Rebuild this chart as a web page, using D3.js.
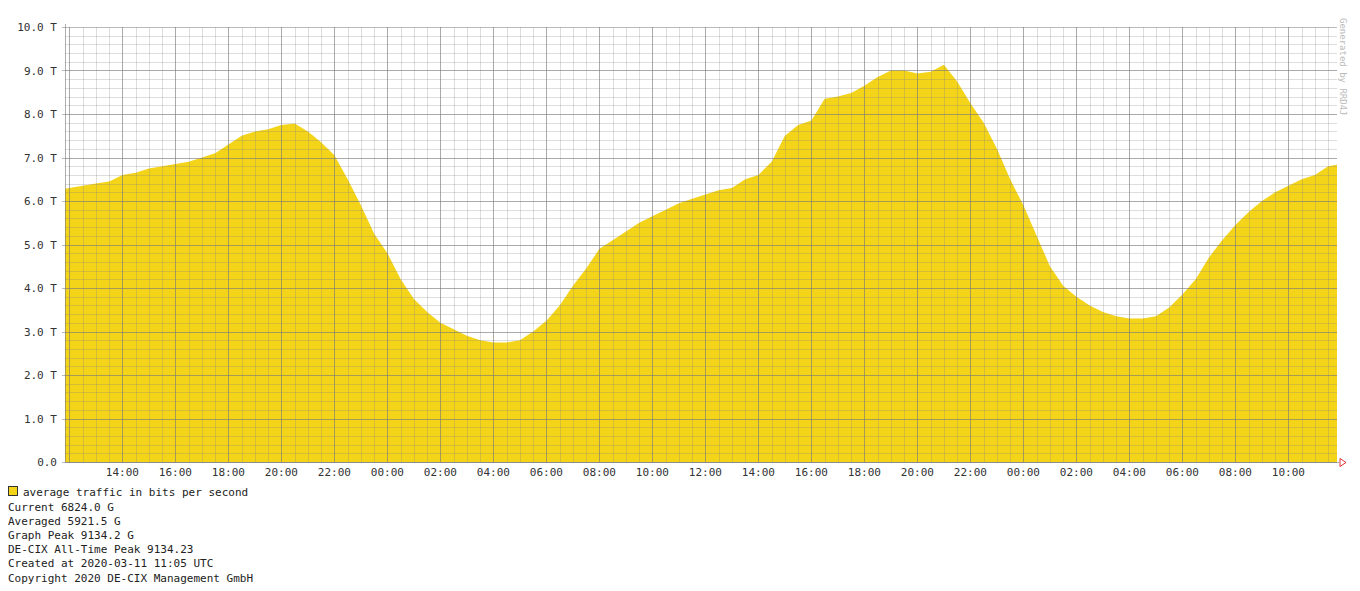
<!DOCTYPE html>
<html><head><meta charset="utf-8">
<script src="https://cdn.jsdelivr.net/npm/d3@7"></script>
<style>
html,body{margin:0;padding:0;background:#fff;}
svg text{font-family:"DejaVu Sans Mono",monospace;}
</style></head>
<body>
<svg id="chart" width="1360" height="591"></svg>
<script>
// ---- data (values in Tbit/s, every 30 minutes, starting 2020-03-09 11:30) ----
const seriesStart = "2020-03-09T11:30:00Z";
const stepMinutes = 30;
const trafficT = [
 6.25,
 6.3,6.35,6.4,6.45,6.6,6.65,6.75,6.8,6.85,6.9,7.0,7.1,
 7.3,7.5,7.6,7.65,7.75,7.78,7.6,7.35,7.05,6.5,5.9,5.25,
 4.8,4.2,3.75,3.45,3.2,3.05,2.9,2.8,2.75,2.75,2.8,3.0,
 3.25,3.6,4.05,4.45,4.9,5.1,5.3,5.5,5.65,5.8,5.95,6.05,
 6.15,6.25,6.3,6.5,6.6,6.9,7.5,7.75,7.85,8.35,8.4,8.48,
 8.65,8.85,9.0,9.0,8.93,8.97,9.13,8.75,8.25,7.8,7.2,6.5,
 5.9,5.2,4.5,4.05,3.8,3.6,3.45,3.35,3.3,3.3,3.35,3.55,
 3.85,4.2,4.7,5.1,5.45,5.75,6.0,6.2,6.35,6.5,6.6,6.8,
 6.85
];
const viewStart = "2020-03-09T11:50:00Z";
const viewEnd = "2020-03-11T11:50:00Z";
const yTickValues = [0,1,2,3,4,5,6,7,8,9,10];
const yTickLabels = ["0.0","1.0 T","2.0 T","3.0 T","4.0 T","5.0 T","6.0 T","7.0 T","8.0 T","9.0 T","10.0 T"];
const legendLabel = "average traffic in bits per second";
const legendLines = [
 "Current 6824.0 G",
 "Averaged 5921.5 G",
 "Graph Peak 9134.2 G",
 "DE-CIX All-Time Peak 9134.23",
 "Created at 2020-03-11 11:05 UTC",
 "Copyright 2020 DE-CIX Management GmbH"
];
const watermark = "Generated by RRD4J";

// ---- layout ----
const L = 65, R = 1337, T = 27, B = 462;
const svg = d3.select("#chart");
const t0 = new Date(seriesStart).getTime();
const data = trafficT.map((v,i)=>({t:new Date(t0 + i*stepMinutes*60000), v}));

const x = d3.scaleUtc().domain([new Date(viewStart), new Date(viewEnd)]).range([L, R]);
const y = d3.scaleLinear().domain([0,10]).range([B, T]);

svg.append("defs").append("clipPath").attr("id","plot")
  .append("rect").attr("x",L).attr("y",T-1).attr("width",R-L).attr("height",B-T+1);

// area
const area = d3.area().x(d=>x(d.t)).y0(y(0)).y1(d=>y(d.v)).curve(d3.curveLinear);
svg.append("path").datum(data).attr("clip-path","url(#plot)")
  .attr("d",area).attr("fill","#f3d418");

// grid
const minorCol = "rgba(128,128,128,0.27)";
const majorCol = "rgba(120,120,120,0.5)";
const g = svg.append("g");
const minorX = d3.utcMinute.every(30).range(x.domain()[0], x.domain()[1]);
const majorX = d3.utcHour.every(2).range(x.domain()[0], x.domain()[1]);
minorX.forEach(d=>{
  g.append("line").attr("x1",Math.round(x(d))+0.5).attr("x2",Math.round(x(d))+0.5)
   .attr("y1",T).attr("y2",B).attr("stroke",minorCol).attr("stroke-width",1);
});
const minorY = d3.range(0, 50).map(i=>i*0.2);
minorY.forEach(v=>{
  const yy = Math.round(y(v))+0.5;
  g.append("line").attr("x1",L).attr("x2",R).attr("y1",yy).attr("y2",yy)
   .attr("stroke",minorCol).attr("stroke-width",1);
});
majorX.forEach(d=>{
  g.append("line").attr("x1",Math.round(x(d))+0.5).attr("x2",Math.round(x(d))+0.5)
   .attr("y1",T).attr("y2",B).attr("stroke",majorCol).attr("stroke-width",1);
});
yTickValues.forEach(v=>{
  const yy = Math.round(y(v))+0.5;
  g.append("line").attr("x1",L-3).attr("x2",R).attr("y1",yy).attr("y2",yy)
   .attr("stroke",majorCol).attr("stroke-width",1);
});

// axes lines
svg.append("line").attr("x1",L+0.5).attr("x2",L+0.5).attr("y1",T-3).attr("y2",B)
  .attr("stroke","rgba(120,120,120,0.6)");
svg.append("line").attr("x1",L).attr("x2",R+2).attr("y1",B+0.5).attr("y2",B+0.5)
  .attr("stroke","rgba(120,120,120,0.6)");
// arrow
svg.append("path").attr("d",`M${R+3},${B-3.5} L${R+9},${B+0.5} L${R+3},${B+4.5} Z`)
  .attr("fill","none").attr("stroke","#e03030").attr("stroke-width",1);

// y labels
svg.append("g").selectAll("text").data(yTickValues).join("text")
  .attr("x",57).attr("y",d=>y(d)+4).attr("text-anchor","end")
  .attr("font-size","11px").attr("fill","#333").text((d,i)=>yTickLabels[i]);

// x labels (skip labels too close to the left edge)
svg.append("g").selectAll("text").data(majorX.filter(d=>x(d) > L+25)).join("text")
  .attr("x",d=>x(d)).attr("y",476).attr("text-anchor","middle")
  .attr("font-size","11px").attr("fill","#333").text(d=>d3.utcFormat("%H:%M")(d));

// legend
svg.append("rect").attr("x",8.5).attr("y",486.5).attr("width",9).attr("height",9)
  .attr("fill","#f3d418").attr("stroke","#333");
svg.append("text").attr("x",23).attr("y",496).attr("font-size","11px").attr("fill","#222").text(legendLabel);
svg.append("g").selectAll("text").data(legendLines).join("text")
  .attr("x",8).attr("y",(d,i)=>511+i*14.1).attr("font-size","11px").attr("fill","#222").text(d=>d);

// watermark
svg.append("text").attr("transform","translate(1340,18) rotate(90)")
  .attr("font-size","9px").attr("fill","#bbb").text(watermark);
</script>
</body></html>
